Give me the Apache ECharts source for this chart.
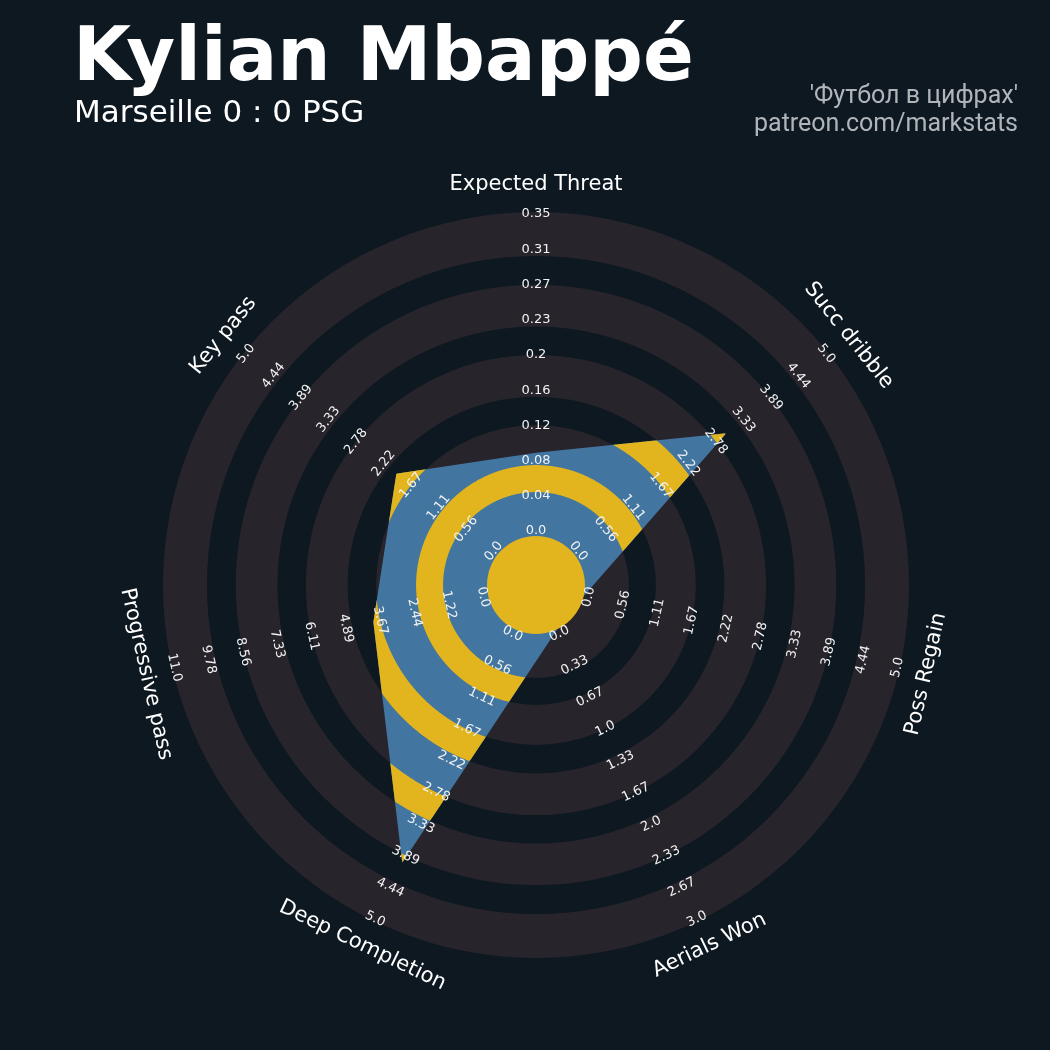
<!DOCTYPE html>
<html>
<head>
<meta charset="utf-8">
<script src="https://cdn.jsdelivr.net/npm/echarts@6/dist/echarts.min.js"></script>
<style>
  html, body { margin: 0; padding: 0; background: #0e1821; }
  #chart { width: 1050px; height: 1050px; }
</style>
</head>
<body>
<div id="chart"></div>
<script>
// radar parameters, clockwise from the top
const params = ['Expected Threat', 'Succ dribble', 'Poss Regain', 'Aerials Won', 'Deep Completion', 'Progressive pass', 'Key pass'];
const lowRange = [0, 0, 0, 0, 0, 0, 0];
const highRange = [0.35, 5, 5, 3, 5, 11, 5];
const playerValues = [0.09, 3, 0, 0, 4, 4, 2];

// tick labels written along every axis
const rangeLabels = [
  ['0.0', '0.04', '0.08', '0.12', '0.16', '0.2', '0.23', '0.27', '0.31', '0.35'],
  ['0.0', '0.56', '1.11', '1.67', '2.22', '2.78', '3.33', '3.89', '4.44', '5.0'],
  ['0.0', '0.56', '1.11', '1.67', '2.22', '2.78', '3.33', '3.89', '4.44', '5.0'],
  ['0.0', '0.33', '0.67', '1.0', '1.33', '1.67', '2.0', '2.33', '2.67', '3.0'],
  ['0.0', '0.56', '1.11', '1.67', '2.22', '2.78', '3.33', '3.89', '4.44', '5.0'],
  ['0.0', '1.22', '2.44', '3.67', '4.89', '6.11', '7.33', '8.56', '9.78', '11.0'],
  ['0.0', '0.56', '1.11', '1.67', '2.22', '2.78', '3.33', '3.89', '4.44', '5.0']
];

const BG = '#0e1821';
const RING = '#28242c';
const BLUE = '#4276a1';
const YELLOW = '#e2b41e';

const RMAX = 9; // radius axis runs 0..9, one unit per tick label step
const PARAM_R = 9.75;
// tick labels sit slightly inside the outer edge and slightly off the centre circle
const LABEL_R0 = 0.14;
const LABEL_STEP = 0.978;
// ring bands in radius-axis units (filled rings and the gaps between them)
const fillBands = [[0, 1.22], [1.97, 3.08], [3.87, 5.03], [5.82, 6.98], [7.78, 9]];
const gapBands = [[1.22, 1.97], [3.08, 3.87], [5.03, 5.82], [6.98, 7.78]];

const N = params.length;
const step = 360 / N;

const toUnits = (i, v) => (v - lowRange[i]) / (highRange[i] - lowRange[i]) * RMAX;

const dist = (cx, cy, p) => Math.hypot(p[0] - cx, p[1] - cy);

// distance from the centre to the polygon edge along screen angle t
const rayRadius = (cx, cy, pts, t) => {
  const dx = Math.cos(t), dy = Math.sin(t);
  let best = 0;
  for (let k = 0; k < pts.length; k++) {
    const p = pts[k], q = pts[(k + 1) % pts.length];
    const ex = q[0] - p[0], ey = q[1] - p[1];
    const den = dx * ey - dy * ex;
    if (Math.abs(den) < 1e-9) continue;
    const px = p[0] - cx, py = p[1] - cy;
    const s = (px * ey - py * ex) / den;
    const u = (px * dy - py * dx) / den;
    if (u >= -1e-9 && u <= 1 + 1e-9 && s > best) best = s;
  }
  return best;
};

// pieces of the radar polygon that fall inside the annulus [ra, rb]
const clipToBand = (cx, cy, pts, ra, rb) => {
  const M = 1440;
  const dt = Math.PI * 2 / M;
  const rho = [];
  for (let j = 0; j < M; j++) rho.push(rayRadius(cx, cy, pts, j * dt));
  const pt = (t, r) => [cx + r * Math.cos(t), cy + r * Math.sin(t)];
  let j0 = rho.findIndex((r) => r <= ra);
  const pieces = [];
  if (j0 < 0) {
    // whole band covered: split in two halves
    [[0, M / 2], [M / 2, M]].forEach(([a, b]) => {
      const outer = [], inner = [];
      for (let j = a; j <= b; j++) {
        outer.push(pt(j * dt, Math.min(rb, rho[j % M])));
        inner.unshift(pt(j * dt, ra));
      }
      pieces.push(outer.concat(inner));
    });
    return pieces;
  }
  let run = null;
  for (let n = 1; n <= M; n++) {
    const j = j0 + n;
    const r = rho[j % M];
    const rPrev = rho[(j - 1) % M];
    if (r > ra) {
      if (!run) {
        const f = (ra - rPrev) / (r - rPrev);
        run = { start: (j - 1 + f) * dt, ids: [] };
      }
      run.ids.push(j);
    } else if (run) {
      const f = (ra - rPrev) / (r - rPrev);
      const end = (j - 1 + f) * dt;
      const outer = [pt(run.start, ra)];
      run.ids.forEach((k) => outer.push(pt(k * dt, Math.min(rb, rho[k % M]))));
      outer.push(pt(end, ra));
      const inner = [];
      for (let k = run.ids.length - 1; k >= 0; k--) inner.push(pt(run.ids[k] * dt, ra));
      pieces.push(outer.concat(inner));
      run = null;
    }
  }
  return pieces;
};

const chart = echarts.init(document.getElementById('chart'), null, { renderer: 'canvas' });

const renderRings = (p, api) => {
  const cx = p.coordSys.cx, cy = p.coordSys.cy;
  return {
    type: 'group',
    children: fillBands.map(([a, b]) => ({
      type: 'ring',
      shape: {
        cx, cy,
        r0: dist(cx, cy, api.coord([a, 0])),
        r: dist(cx, cy, api.coord([b, 0]))
      },
      style: { fill: RING }
    }))
  };
};

const renderRadar = (p, api) => {
  const cx = p.coordSys.cx, cy = p.coordSys.cy;
  const pts = playerValues.map((v, i) => {
    const c = api.coord([toUnits(i, v), i * step]);
    return [c[0], c[1]];
  });
  const children = [{ type: 'polygon', shape: { points: pts }, style: { fill: BLUE } }];
  gapBands.forEach(([a, b]) => {
    const ra = dist(cx, cy, api.coord([a, 0]));
    const rb = dist(cx, cy, api.coord([b, 0]));
    clipToBand(cx, cy, pts, ra, rb).forEach((poly) => {
      children.push({ type: 'polygon', shape: { points: poly }, style: { fill: YELLOW } });
    });
  });
  children.push({
    type: 'circle',
    shape: { cx, cy, r: dist(cx, cy, api.coord([0, 0])) },
    style: { fill: YELLOW }
  });
  return { type: 'group', children };
};

const renderLabels = (p, api) => {
  const i = p.dataIndex;
  const phi = 90 - i * step;
  const rot = Math.sin(phi * Math.PI / 180) >= -1e-9 ? phi - 90 : phi + 90;
  const rad = rot * Math.PI / 180;
  const children = rangeLabels[i].map((txt, k) => {
    const c = api.coord([LABEL_R0 + k * LABEL_STEP, i * step]);
    return {
      type: 'text', x: c[0], y: c[1], rotation: rad,
      style: { text: txt, fill: '#f2f2f2', font: '13px "DejaVu Sans"', align: 'center', verticalAlign: 'middle' }
    };
  });
  const c = api.coord([PARAM_R, i * step]);
  children.push({
    type: 'text', x: c[0], y: c[1], rotation: rad,
    style: { text: params[i], fill: '#ffffff', font: '21px "DejaVu Sans"', align: 'center', verticalAlign: 'middle' }
  });
  return { type: 'group', children };
};

const option = {
  backgroundColor: BG,
  animation: false,
  polar: { center: [536, 585], radius: [49, 373] },
  angleAxis: {
    type: 'value', min: 0, max: 360, startAngle: 90, clockwise: true,
    axisLine: { show: false }, axisTick: { show: false }, axisLabel: { show: false }, splitLine: { show: false }
  },
  radiusAxis: {
    type: 'value', min: 0, max: RMAX,
    axisLine: { show: false }, axisTick: { show: false }, axisLabel: { show: false }, splitLine: { show: false }
  },
  graphic: [
    { type: 'text', x: 73, y: 61, style: { text: 'Kylian Mbappé', fill: '#ffffff', font: 'bold 75px "DejaVu Sans"', verticalAlign: 'middle' } },
    { type: 'text', x: 74, y: 114, style: { text: 'Marseille 0 : 0 PSG', fill: '#ffffff', font: '31px "DejaVu Sans"', verticalAlign: 'middle' } },
    { type: 'text', x: 1018, y: 97, style: { text: "'Футбол в цифрах'", fill: '#b0b5b9', font: '25px Roboto', align: 'right', verticalAlign: 'middle' } },
    { type: 'text', x: 1018, y: 125, style: { text: 'patreon.com/markstats', fill: '#b0b5b9', font: '25px Roboto', align: 'right', verticalAlign: 'middle' } }
  ],
  series: [
    { type: 'custom', coordinateSystem: 'polar', z: 1, silent: true, data: [[0, 0]], renderItem: renderRings },
    { type: 'custom', coordinateSystem: 'polar', z: 2, silent: true, data: [[0, 0]], renderItem: renderRadar },
    { type: 'custom', coordinateSystem: 'polar', z: 3, silent: true, data: params.map((_, i) => [0, i * step]), renderItem: renderLabels }
  ]
};

chart.setOption(option);
</script>
</body>
</html>
